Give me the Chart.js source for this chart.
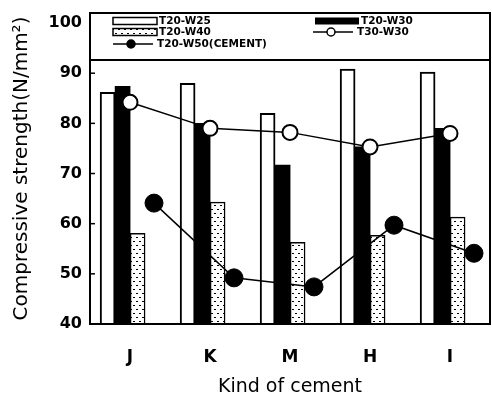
<!DOCTYPE html>
<html>
<head>
<meta charset="utf-8">
<script src="https://cdn.jsdelivr.net/npm/chart.js@4"></script>
<style>
  html, body { margin: 0; padding: 0; background: #fff; }
  canvas { display: block; }
</style>
</head>
<body>
<canvas id="c" width="492" height="398"></canvas>
<script>
// data
const categories = ['J', 'K', 'M', 'H', 'I'];
const t20w25 = [86.2, 88.0, 82.0, 90.8, 90.2];
const t20w30 = [87.4, 80.0, 71.7, 75.3, 79.0];
const t20w40 = [58.1, 64.3, 56.3, 57.7, 61.3];
const t30w30 = [84.2, 79.0, 78.2, 75.3, 78.0];
const t20w50cement = [64.1, 49.2, 47.4, 59.7, 54.1];
const yTicks = [40, 50, 60, 70, 80, 90, 100];

const FONT = "'DejaVu Sans', sans-serif";

// dotted fill for the T20-W40 bars
function dotPattern() {
  const p = document.createElement('canvas');
  p.width = 6; p.height = 8;
  const c = p.getContext('2d');
  c.fillStyle = '#fff';
  c.fillRect(0, 0, 6, 8);
  c.fillStyle = '#000';
  c.fillRect(1, 1, 2, 1);
  c.fillRect(4, 5, 2, 1);
  return c.createPattern(p, 'repeat');
}
const dots = dotPattern();

// place a series at a fixed shift from each category centre (in category units)
function shifted(values, shift) {
  return values.map((v, i) => ({ x: i + shift, y: v }));
}

// box with the legend at the top of the plot, plus frame and inward ticks
const frameAndLegend = {
  id: 'frameAndLegend',
  afterDatasetsDraw(chart) {
    const ctx = chart.ctx;
    const a = chart.chartArea;
    const bandBottom = 60;
    ctx.save();
    ctx.fillStyle = '#fff';
    ctx.fillRect(a.left, a.top, a.right - a.left, bandBottom - a.top);
    ctx.strokeStyle = '#000';
    ctx.lineWidth = 2;
    ctx.beginPath();
    ctx.moveTo(a.left, bandBottom);
    ctx.lineTo(a.right, bandBottom);
    ctx.stroke();

    ctx.font = 'bold 10.5px ' + FONT;
    ctx.textBaseline = 'middle';
    ctx.fillStyle = '#000';

    function rectItem(x, y, fill, bw, label) {
      ctx.fillStyle = fill;
      ctx.fillRect(x, y - 3.5, 44, 7);
      if (bw) {
        ctx.lineWidth = bw;
        ctx.strokeRect(x, y - 3.5, 44, 7);
      }
      ctx.fillStyle = '#000';
      ctx.fillText(label, x + 46, y);
    }
    function lineItem(x, y, filled, r, label) {
      ctx.lineWidth = 1.5;
      ctx.beginPath();
      ctx.moveTo(x, y);
      ctx.lineTo(x + 40, y);
      ctx.stroke();
      ctx.beginPath();
      ctx.arc(x + 18, y, r, 0, Math.PI * 2);
      ctx.fillStyle = filled ? '#000' : '#fff';
      ctx.fill();
      ctx.stroke();
      ctx.fillStyle = '#000';
      ctx.fillText(label, x + 44, y);
    }
    const ds = chart.data.datasets;
    rectItem(113, 21, '#fff', 1.5, ds[2].label);
    rectItem(315, 21, '#000', 0, ds[3].label);
    rectItem(113, 32, dots, 1.5, ds[4].label);
    lineItem(313, 32, false, 4, ds[0].label);
    lineItem(113, 44, true, 4, ds[1].label);

    // frame
    ctx.lineWidth = 2;
    ctx.strokeRect(a.left, a.top, a.right - a.left, a.bottom - a.top);

    // small inward ticks on the y axis
    const ys = chart.scales.y;
    ctx.lineWidth = 1.5;
    yTicks.forEach(v => {
      const py = ys.getPixelForValue(v);
      if (py < bandBottom) return;
      ctx.beginPath();
      ctx.moveTo(a.left, py);
      ctx.lineTo(a.left + 5, py);
      ctx.stroke();
    });
    ctx.restore();
  }
};

const barCommon = {
  type: 'bar', order: 1, xAxisID: 'xl', grouped: false,
  barPercentage: 1, categoryPercentage: 1, maxBarThickness: 15
};

new Chart(document.getElementById('c'), {
  type: 'bar',
  data: {
    labels: categories,
    datasets: [
      {
        type: 'line', label: 'T30-W30', data: t30w30, order: 0,
        borderColor: '#000', borderWidth: 1.5,
        pointRadius: 7.5, pointBackgroundColor: '#fff', pointBorderColor: '#000', pointBorderWidth: 2
      },
      {
        type: 'line', label: 'T20-W50(CEMENT)', order: 0, xAxisID: 'xl',
        data: shifted(t20w50cement, 0.3),
        borderColor: '#000', borderWidth: 1.5,
        pointRadius: 9, pointBackgroundColor: '#000', pointBorderColor: '#000', pointBorderWidth: 1
      },
      Object.assign({
        label: 'T20-W25', data: shifted(t20w25, -0.28),
        backgroundColor: '#fff', borderColor: '#000', borderWidth: 2, borderSkipped: 'bottom'
      }, barCommon),
      Object.assign({
        label: 'T20-W30', data: shifted(t20w30, -0.0925),
        backgroundColor: '#000', borderWidth: 0
      }, barCommon),
      Object.assign({
        label: 'T20-W40', data: shifted(t20w40, 0.095),
        backgroundColor: dots, borderColor: '#000', borderWidth: 1.5, borderSkipped: 'bottom'
      }, barCommon)
    ]
  },
  options: {
    responsive: false,
    animation: false,
    layout: { autoPadding: false, padding: { top: 13, right: 2, left: 0, bottom: 0 } },
    plugins: { legend: { display: false }, tooltip: { enabled: false } },
    scales: {
      x: {
        offset: true,
        grid: { display: false, drawTicks: false },
        border: { display: false },
        ticks: { color: '#000', padding: 23, font: { family: FONT, size: 17, weight: 'bold' } },
        title: {
          display: true, text: 'Kind of cement', color: '#000',
          font: { family: FONT, size: 19 }, padding: { top: 2, bottom: 0 }
        },
        afterFit(s) { s.height = 74; s.paddingLeft = 0; s.paddingRight = 0; }
      },
      xl: {
        type: 'linear', display: false, min: -0.5, max: 4.5, offset: false,
        afterFit(s) { s.paddingLeft = 0; s.paddingRight = 0; }
      },
      y: {
        min: 40, max: 102,
        grid: { display: false, drawTicks: false },
        border: { display: false },
        afterBuildTicks(s) { s.ticks = yTicks.map(v => ({ value: v })); },
        ticks: { color: '#000', padding: 8, font: { family: FONT, size: 16, weight: 'bold' } },
        title: {
          display: true, text: 'Compressive strength(N/mm²)', color: '#000',
          font: { family: FONT, size: 20 }, padding: { top: 10, bottom: 0 }
        },
        afterFit(s) { s.width = 90; s.paddingTop = 0; s.paddingBottom = 0; }
      }
    }
  },
  plugins: [frameAndLegend]
});
</script>
</body>
</html>
